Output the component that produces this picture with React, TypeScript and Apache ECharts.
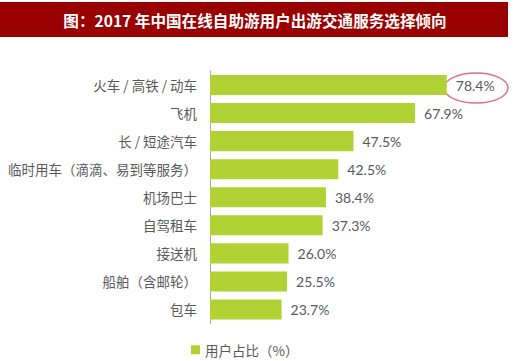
import React, { useEffect, useRef } from "react";
import * as echarts from "echarts";

const categories = [
  "火车 / 高铁 / 动车",
  "飞机",
  "长 / 短途汽车",
  "临时用车（滴滴、易到等服务）",
  "机场巴士",
  "自驾租车",
  "接送机",
  "船舶（含邮轮）",
  "包车",
];
const values = [78.4, 67.9, 47.5, 42.5, 38.4, 37.3, 26.0, 25.5, 23.7];
const seriesName = "用户占比（%）";
const title = "图：2017 年中国在线自助游用户出游交通服务选择倾向";

export default function App() {
  const ref = useRef<HTMLDivElement>(null);
  useEffect(() => {
    document.body.style.margin = "0";
    const chart = echarts.init(ref.current!, null, { renderer: "svg" });
    chart.setOption({
      animation: false,
      backgroundColor: "#ffffff",
      graphic: [
        {
          type: "rect",
          shape: { x: 0, y: 2, width: 508, height: 35 },
          style: { fill: "#990000" },
          silent: true,
        },
        {
          type: "text",
          x: 255,
          y: 20,
          style: {
            text: title,
            fill: "#ffffff",
            font: "bold 15.6px 'Noto Sans CJK SC'",
            align: "center",
            verticalAlign: "middle",
          },
        },
        {
          type: "ellipse",
          shape: { cx: 476, cy: 88, rx: 32, ry: 15 },
          style: { fill: "none", stroke: "#e07080", lineWidth: 1.5 },
          silent: true,
        },
      ],
      legend: {
        data: [seriesName],
        left: 186,
        top: 338,
        itemWidth: 9,
        itemHeight: 9,
        itemGap: 4,
        icon: "rect",
        textStyle: {
          color: "#595959",
          fontSize: 13.5,
          fontFamily: "'Noto Sans CJK SC'",
          padding: [0, 0, 0, 0],
        },
      },
      grid: { left: 210, top: 71, width: 302, height: 252.5, containLabel: false },
      xAxis: { type: "value", min: 0, max: 100, show: false },
      yAxis: {
        type: "category",
        inverse: true,
        data: categories,
        axisLine: { show: true, lineStyle: { color: "#a6a6a6", width: 1 } },
        axisTick: { show: false },
        axisLabel: {
          color: "#595959",
          fontSize: 13.5,
          fontFamily: "'Noto Sans CJK SC'",
          margin: 13,
        },
      },
      series: [
        {
          name: seriesName,
          type: "bar",
          data: values,
          barCategoryGap: "28.6%",
          itemStyle: { color: "#b1d235" },
          label: {
            show: true,
            position: "right",
            distance: 9,
            formatter: (p: any) => p.value.toFixed(1) + "%",
            color: "#595959",
            fontSize: 14,
            fontFamily: "Lato",
          },
        },
      ],
    });
    return () => chart.dispose();
  }, []);
  return <div ref={ref} style={{ width: 513, height: 361 }} />;
}
